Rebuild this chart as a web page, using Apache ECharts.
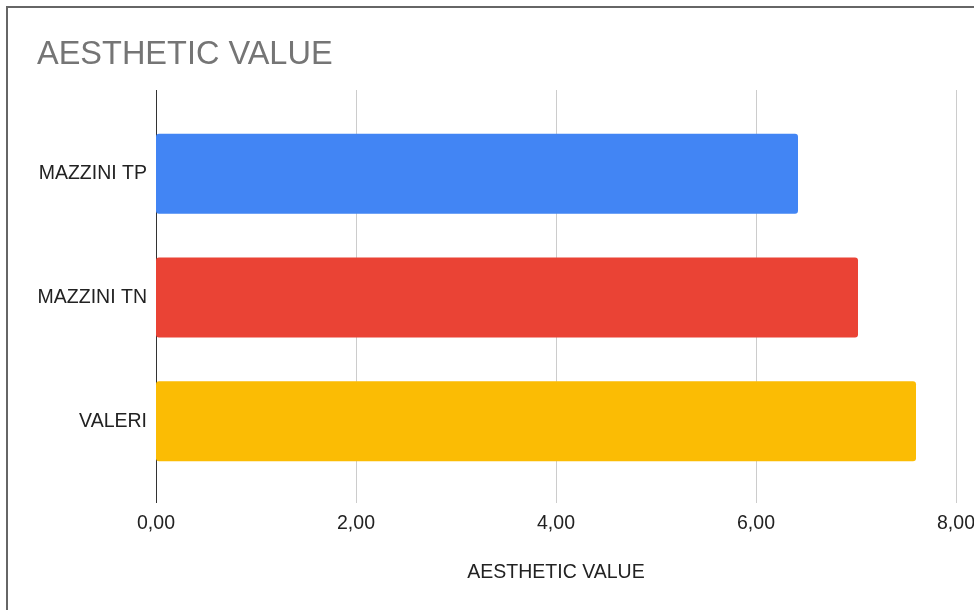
<!DOCTYPE html>
<html>
<head>
<meta charset="utf-8">
<script src="https://cdn.jsdelivr.net/npm/echarts@6/dist/echarts.min.js"></script>
<style>
html,body{margin:0;padding:0;background:#fff;}
#chart{width:974px;height:610px;}
</style>
</head>
<body>
<div id="chart"></div>
<script>
const categories = ['MAZZINI TP', 'MAZZINI TN', 'VALERI'];
const values = [6.42, 7.02, 7.60];
const barColors = ['#4285F4', '#EA4335', '#FBBC04'];
const xTicks = [0, 2, 4, 6, 8];

const chart = echarts.init(document.getElementById('chart'));
const font = 'Arial, "Liberation Sans", sans-serif';
chart.setOption({
  animation: false,
  backgroundColor: '#fff',
  title: {
    text: 'AESTHETIC VALUE',
    left: 32, top: 34,
    textStyle: { fontFamily: font, fontSize: 32.5, fontWeight: 'normal', color: '#757575' }
  },
  graphic: [{
    type: 'rect',
    shape: { x: 7, y: 7, width: 1100, height: 1100 },
    style: { fill: 'none', stroke: '#666', lineWidth: 2 },
    silent: true
  }],
  grid: [
    { left: 156, right: 18, top: 90, bottom: 107, outerBoundsMode: 'none', containLabel: false },
    { left: 156, right: 18, top: 112, bottom: 127, outerBoundsMode: 'none', containLabel: false }
  ],
  xAxis: [{
    gridIndex: 0, type: 'value', min: xTicks[0], max: xTicks[xTicks.length - 1], interval: 2,
    axisLine: { show: false }, axisTick: { show: false },
    splitLine: { show: true, lineStyle: { color: ['#333', '#ccc', '#ccc', '#ccc', '#ccc'], width: 1 } },
    axisLabel: {
      margin: 11, fontFamily: font, fontSize: 19.5, color: '#222',
      formatter: v => v.toFixed(2).replace('.', ',')
    },
    name: 'AESTHETIC VALUE', nameLocation: 'middle', nameGap: 60,
    nameTextStyle: { fontFamily: font, fontSize: 19.5, color: '#222' }
  }, {
    gridIndex: 1, type: 'value', min: xTicks[0], max: xTicks[xTicks.length - 1], interval: 2,
    show: false, splitLine: { show: false }
  }],
  yAxis: [{
    gridIndex: 0, type: 'value', show: false, splitLine: { show: false }
  }, {
    gridIndex: 1, type: 'category', data: categories, inverse: true,
    axisLine: { show: false }, axisTick: { show: false },
    axisLabel: { margin: 9, fontFamily: font, fontSize: 19.5, color: '#222' }
  }],
  series: [{
    type: 'bar', xAxisIndex: 1, yAxisIndex: 1,
    data: values, barWidth: 80,
    itemStyle: {
      borderRadius: 3,
      color: p => barColors[p.dataIndex]
    }
  }]
});
</script>
</body>
</html>
